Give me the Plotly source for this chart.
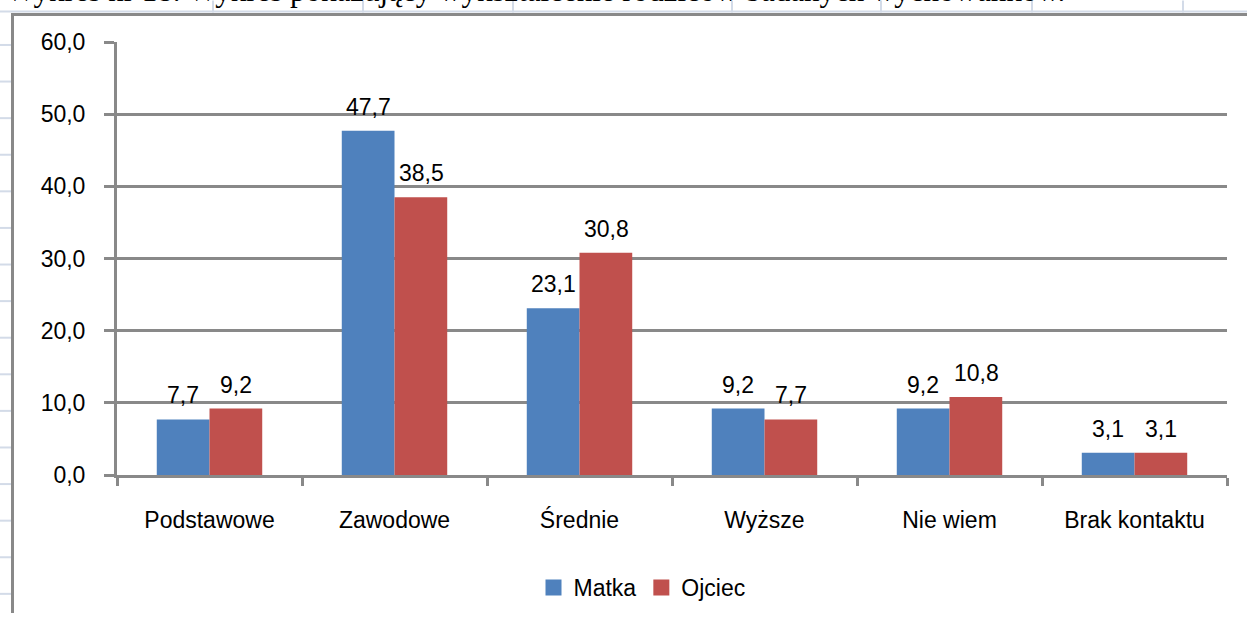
import plotly.graph_objects as go

categories = ["Podstawowe", "Zawodowe", "Średnie", "Wyższe", "Nie wiem", "Brak kontaktu"]
matka = [7.7, 47.7, 23.1, 9.2, 9.2, 3.1]
ojciec = [9.2, 38.5, 30.8, 7.7, 10.8, 3.1]
y_ticks = [0, 10, 20, 30, 40, 50, 60]
caption = "Wykres nr 18. Wykres pokazujący wykształcenie rodziców badanych wychowanków."

W, H = 1247, 621
L, R, T, B = 117, 20, 42, 140
GRID = "#898989"
SHEET = "#d3dbe8"
FONT = "Liberation Sans, Arial, sans-serif"
BLUE, RED = "#4f81bd", "#c0504d"


def px_x(px):
    return (px - L) / (W - L - R)


def px_y(py):
    return (H - B - py) / (H - T - B)


fig = go.Figure()
fig.add_trace(go.Bar(x=categories, y=matka, name="Matka", marker_color=BLUE,
                     marker_line_width=0, showlegend=False))
fig.add_trace(go.Bar(x=categories, y=ojciec, name="Ojciec", marker_color=RED,
                     marker_line_width=0, showlegend=False))
# legend swatches as square markers
for name, col in [("Matka", BLUE), ("Ojciec", RED)]:
    fig.add_trace(go.Scatter(x=[None], y=[None], mode="markers", name=name,
                             marker=dict(symbol="square", size=16, color=col)))

# value labels, lifted a bit above the bars like in Excel
annotations = []
for vals, shift in [(matka, -26.5), (ojciec, 26.5)]:
    for cat, v in zip(categories, vals):
        annotations.append(dict(x=cat, y=v, text=f"{v:.1f}".replace(".", ","),
                                xref="x", yref="y", showarrow=False, xshift=shift,
                                yanchor="bottom", yshift=9, font=dict(size=23)))
annotations.append(dict(text=caption, xref="paper", yref="paper", x=px_x(4), y=px_y(-10),
                        xanchor="left", yanchor="middle", showarrow=False,
                        font=dict(family="Liberation Serif, Times New Roman, serif", size=31)))

shapes = []
# spreadsheet frame around the embedded chart
shapes.append(dict(type="line", xref="paper", yref="paper", x0=px_x(0), x1=px_x(W),
                   y0=px_y(11), y1=px_y(11), line=dict(color=SHEET, width=2)))
for cx in [213, 363, 513, 732, 881, 1032, 1183]:
    shapes.append(dict(type="line", xref="paper", yref="paper", x0=px_x(cx), x1=px_x(cx),
                       y0=px_y(0), y1=px_y(12), line=dict(color=SHEET, width=2)))
ry = 45.0
while ry < H:
    shapes.append(dict(type="line", xref="paper", yref="paper", x0=px_x(0), x1=px_x(11),
                       y0=px_y(ry), y1=px_y(ry), line=dict(color=SHEET, width=2)))
    ry += 37.1
shapes.append(dict(type="line", xref="paper", yref="paper", x0=px_x(11), x1=px_x(W),
                   y0=px_y(14), y1=px_y(14), line=dict(color=GRID, width=3)))
shapes.append(dict(type="line", xref="paper", yref="paper", x0=px_x(12.5), x1=px_x(12.5),
                   y0=px_y(13), y1=px_y(H), line=dict(color=GRID, width=3)))

fig.update_layout(
    width=W, height=H,
    margin=dict(l=L, r=R, t=T, b=B),
    paper_bgcolor="white", plot_bgcolor="white",
    separators=", ",
    font=dict(family=FONT, size=23, color="black"),
    barmode="group", bargap=0.43, bargroupgap=0,
    shapes=shapes,
    annotations=annotations,
    showlegend=True,
    legend=dict(orientation="h", x=px_x(642), xanchor="center", y=px_y(595), yanchor="middle",
                font=dict(size=23), itemwidth=30, tracegroupgap=0),
)
fig.update_xaxes(showline=True, linecolor=GRID, linewidth=3, ticks="outside",
                 tickson="boundaries", ticklen=8, tickwidth=3, tickcolor=GRID,
                 ticklabelstandoff=22, tickfont=dict(size=23), showgrid=False)
fig.update_yaxes(range=[0, 60], tickvals=y_ticks, tickformat=".1f", showline=True,
                 linecolor=GRID, linewidth=3, gridcolor=GRID, gridwidth=3,
                 ticks="outside", ticklen=10, tickwidth=3, tickcolor=GRID,
                 ticklabelstandoff=14, zeroline=False, tickfont=dict(size=23))

fig.write_html("out.html", config={"displayModeBar": False},
               post_script="document.body.style.margin='0';")
